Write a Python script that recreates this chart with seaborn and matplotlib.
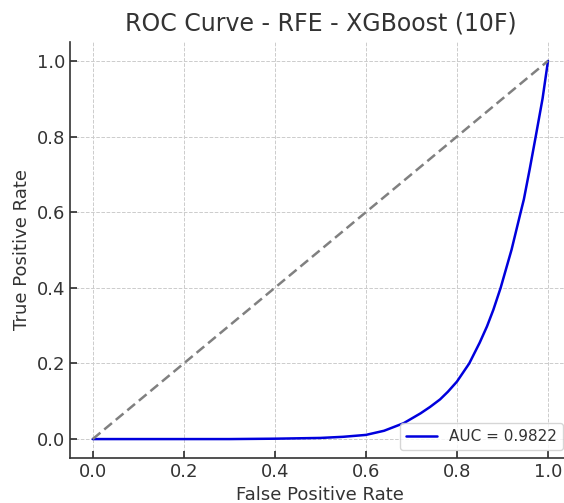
# ROC curve - RFE - XGBoost (10F)
import seaborn as sns
import matplotlib.pyplot as plt
import pandas as pd

fpr = [0.0, 0.3, 0.4, 0.5, 0.55, 0.6, 0.64, 0.683, 0.72, 0.741, 0.763, 0.78,
       0.8, 0.827, 0.85, 0.866, 0.88, 0.896, 0.92, 0.94, 0.947, 0.96, 0.973,
       0.988, 1.0]
tpr = [0.0, 0.0, 0.001, 0.003, 0.006, 0.011, 0.022, 0.042, 0.068, 0.085, 0.105,
       0.125, 0.152, 0.2, 0.255, 0.298, 0.342, 0.4, 0.501, 0.6, 0.634, 0.715,
       0.8, 0.9, 1.0]
diag = [0.0, 1.0]
auc_label = 'AUC = 0.9822'
ticks = [0.0, 0.2, 0.4, 0.6, 0.8, 1.0]

sns.set_theme(style='ticks')
plt.rcParams['font.family'] = ['DejaVu Sans']
TXT = '#333333'

df = pd.DataFrame({'fpr': fpr, 'tpr': tpr})

fig = plt.figure(figsize=(5.64, 5.03), dpi=100)
ax = fig.add_axes([0.124, 0.0895, 0.888, 0.827])

sns.lineplot(data=df, x='fpr', y='tpr', color='#0000dd', linewidth=1.8,
             label=auc_label, ax=ax, estimator=None, sort=False)
ax.plot(diag, diag, linestyle=(0, (4, 2)), color='gray', linewidth=1.8)

ax.set_xlim(-0.05, 1.05)
ax.set_ylim(-0.05, 1.05)
ax.set_xticks(ticks)
ax.set_yticks(ticks)
ax.grid(True, linestyle='--', color='#cccccc', linewidth=0.7)
ax.tick_params(direction='in', labelsize=13, colors=TXT, length=5)
for s in ['left', 'bottom']:
    ax.spines[s].set_color(TXT)
    ax.spines[s].set_linewidth(1.2)
ax.spines['top'].set_visible(False)
ax.spines['right'].set_visible(False)

ax.set_title('ROC Curve - RFE - XGBoost (10F)', fontsize=17, color=TXT, pad=8)
ax.set_xlabel('False Positive Rate', fontsize=13, color=TXT)
ax.set_ylabel('True Positive Rate', fontsize=13, color=TXT)

leg = ax.legend(loc='lower right', fontsize=11, frameon=True)
for t in leg.get_texts():
    t.set_color(TXT)

plt.savefig('out.png', dpi=100)
plt.close()
